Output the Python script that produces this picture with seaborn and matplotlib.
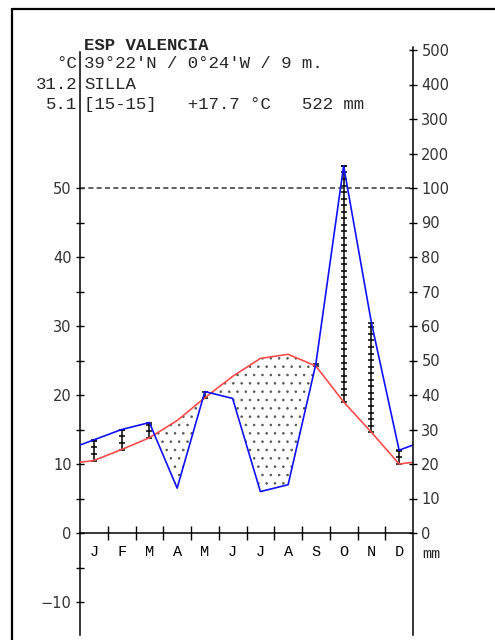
import numpy as np
import matplotlib
matplotlib.use('Agg')
import matplotlib.pyplot as plt
from matplotlib.lines import Line2D
import seaborn as sns

sns.set_theme(style='white')
plt.rcParams['font.family'] = ['DejaVu Sans']
plt.rcParams['hatch.linewidth'] = 0.6

# station header
STATION = 'ESP VALENCIA'
COORDS = "39°22'N / 0°24'W / 9 m."
SITE = 'SILLA'
SUMMARY = '[15-15]   +17.7 °C   522 mm'
ABS_MAX = '31.2'
ABS_MIN = '5.1'

# monthly climate normals
months = ['J', 'F', 'M', 'A', 'M', 'J', 'J', 'A', 'S', 'O', 'N', 'D']
temp_c = [10.5, 12.1, 13.8, 16.3, 19.6, 22.7, 25.3, 25.9, 24.2, 19.0, 14.6, 10.0]
precip_mm = [27, 30, 32, 13, 41, 39, 12, 14, 49, 164, 61, 24]

temp_ticks = [-10, 0, 10, 20, 30, 40, 50]
temp_minor = [-5, 5, 15, 25, 35, 45]
precip_ticks = [0, 10, 20, 30, 40, 50, 60, 70, 80, 90, 100, 200, 300, 400, 500]

MONO = 'Liberation Mono'
W, H = 495, 640
ZERO_Y = 533
PX_PER_DEG = 6.9


def to_scale(p):
    # Walter-Lieth: 10 mm = 5 degC up to 100 mm, then compressed 1:10
    return p / 2 if p <= 100 else 50 + (p - 100) / 20


def fy(py):
    return 1 - py / H


fig = plt.figure(figsize=(W / 100, H / 100), dpi=100)
ax = fig.add_axes([80 / W, 0, 333 / W, 1])
ax.set_xlim(0, 12)
ax.set_ylim(-(H - ZERO_Y) / PX_PER_DEG, ZERO_Y / PX_PER_DEG)
ax.patch.set_alpha(0)

centers = np.arange(12) + 0.5
temp = np.array(temp_c)
prec = np.array([to_scale(p) for p in precip_mm])

# close the curves at the plot edges
x_ext = np.concatenate([[0], centers, [12]])
t_ext = np.concatenate([[(temp[0] + temp[-1]) / 2], temp, [(temp[0] + temp[-1]) / 2]])
p_ext = np.concatenate([[(prec[0] + prec[-1]) / 2], prec, [(prec[0] + prec[-1]) / 2]])

# arid period: dotted
ax.fill_between(x_ext, p_ext, t_ext, where=p_ext < t_ext, interpolate=True,
                facecolor='none', edgecolor='#555555', hatch='..', linewidth=0)

# humid period: ladders at month centres
step = 0.95
for x, t, p in zip(centers, temp, prec):
    if p <= t:
        continue
    ax.plot([x, x], [t, p], color='black', lw=1.1, zorder=3)
    rungs = np.append(np.arange(t, p, step), p)
    ax.plot(np.full(len(rungs), x), rungs, ls='none', marker='_', ms=5,
            mew=1.1, color='black', zorder=3)

sns.lineplot(x=x_ext, y=t_ext, color='#ff4d4d', lw=1.2, ax=ax, sort=False, zorder=4)
sns.lineplot(x=x_ext, y=p_ext, color='#1010ff', lw=1.2, ax=ax, sort=False, zorder=5)

ax.axhline(50, color='#444444', lw=1.2, ls=(0, (3, 2)), zorder=2)

# axes styling
for side in ['top', 'right']:
    ax.spines[side].set_visible(False)
ax.spines['left'].set_bounds(-(635 - ZERO_Y) / PX_PER_DEG, (ZERO_Y - 52) / PX_PER_DEG)
ax.spines['bottom'].set_position(('data', 0))
for s in ax.spines.values():
    s.set_color('black')
    s.set_linewidth(1.1)

ax.set_yticks(temp_ticks)
ax.set_yticks(temp_minor, minor=True)
ax.set_yticklabels([str(v).replace('-', '\u2212') for v in temp_ticks])
ax.tick_params(axis='y', which='both', direction='inout', length=6, width=1,
               color='black', labelcolor='#333333', labelsize=10.5, pad=3, left=True)

ax.set_xticks(np.arange(1, 12))
ax.set_xticklabels([])
ax.set_xticks(centers, minor=True)
ax.set_xticklabels(months, minor=True, fontfamily=MONO, fontsize=11)
ax.tick_params(axis='x', which='major', direction='inout', length=10, width=1,
               color='black', bottom=True)
ax.tick_params(axis='x', which='minor', length=0, pad=9, labelcolor='black', bottom=True)
ax.text(12.65, -3.0, 'mm', ha='center', va='center', fontfamily=MONO, fontsize=11)

ax2 = ax.twinx()
ax2.set_ylim(ax.get_ylim())
ax2.patch.set_alpha(0)
for side in ['top', 'left', 'bottom']:
    ax2.spines[side].set_visible(False)
ax2.spines['right'].set_bounds(-(635 - ZERO_Y) / PX_PER_DEG, (ZERO_Y - 47) / PX_PER_DEG)
ax2.spines['right'].set_color('black')
ax2.spines['right'].set_linewidth(1.1)
ax2.set_yticks([to_scale(p) for p in precip_ticks])
ax2.set_yticklabels([str(p) for p in precip_ticks])
ax2.tick_params(axis='y', direction='inout', length=6, width=1, color='black',
                labelcolor='#333333', labelsize=10.5, pad=3, right=True)
ax2.grid(False)
ax.grid(False)

# header text
fig.text(84 / W, fy(45), STATION, fontfamily=MONO, fontweight='bold', fontsize=12.5, va='center')
fig.text(84 / W, fy(63), COORDS, fontfamily=MONO, fontsize=12.5, va='center')
fig.text(84 / W, fy(84.5), SITE, fontfamily=MONO, fontsize=12.5, va='center')
fig.text(84 / W, fy(104.5), SUMMARY, fontfamily=MONO, fontsize=12.5, va='center')
fig.text(77 / W, fy(63), '°C', fontfamily=MONO, fontsize=12.5, va='center', ha='right')
fig.text(77 / W, fy(84.5), ABS_MAX, fontfamily=MONO, fontsize=12.5, va='center', ha='right')
fig.text(77 / W, fy(104.5), ABS_MIN, fontfamily=MONO, fontsize=12.5, va='center', ha='right')

# outer frame (left and top edges)
fig.add_artist(Line2D([12 / W, 12 / W], [0, fy(9)], color='black', lw=1.6))
fig.add_artist(Line2D([12 / W, 1], [fy(9), fy(9)], color='black', lw=1.6))

fig.savefig('out.png', dpi=100)
